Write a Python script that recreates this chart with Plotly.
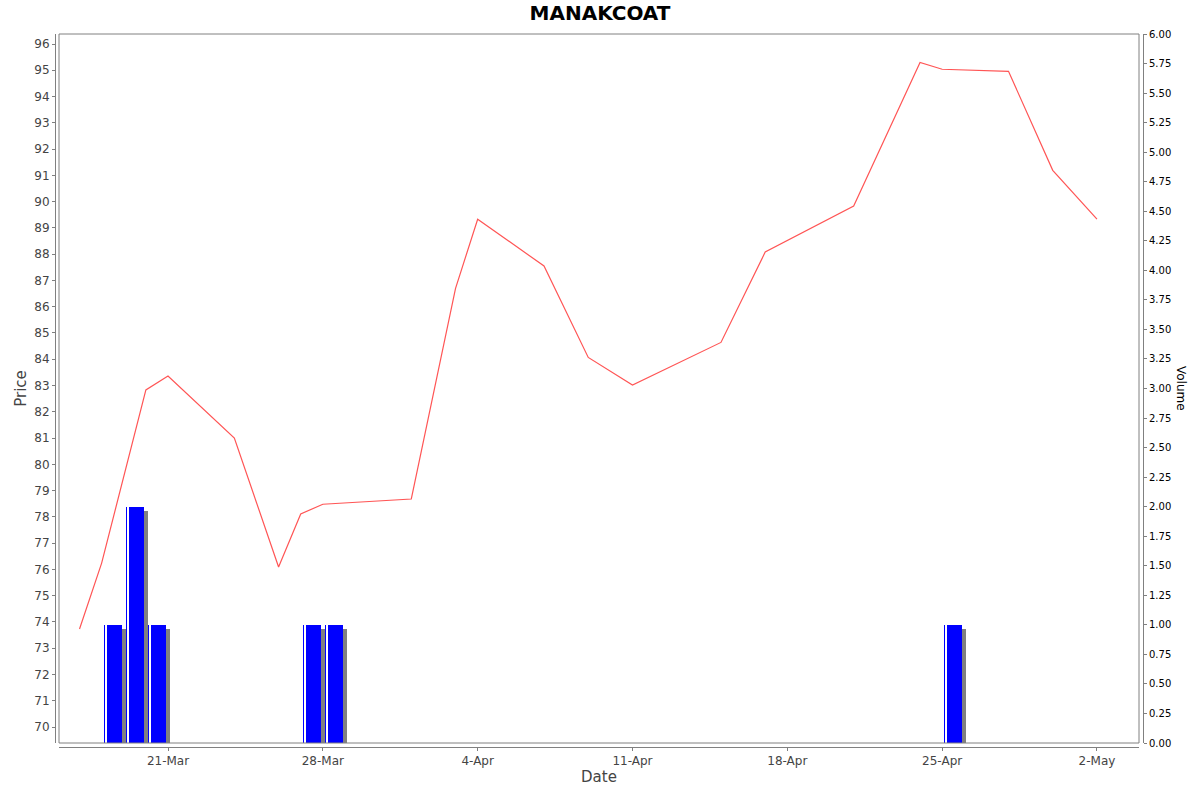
import pandas as pd
import plotly.graph_objects as go

# closing price (only the days drawn as vertices on the chart)
price_dates = ["2025-03-17", "2025-03-18", "2025-03-20", "2025-03-21", "2025-03-24",
               "2025-03-26", "2025-03-27", "2025-03-28", "2025-04-01", "2025-04-03",
               "2025-04-04", "2025-04-07", "2025-04-09", "2025-04-11", "2025-04-15",
               "2025-04-17", "2025-04-21", "2025-04-24", "2025-04-25", "2025-04-28",
               "2025-04-30", "2025-05-02"]
price = [73.73, 76.24, 82.83, 83.36, 81.00,
         76.09, 78.11, 78.48, 78.68, 86.70,
         89.33, 87.55, 84.07, 83.02, 84.64,
         88.08, 89.83, 95.30, 95.04, 94.96,
         91.19, 89.33]

# volume bars
vol_dates = ["2025-03-18", "2025-03-19", "2025-03-20", "2025-03-27", "2025-03-28", "2025-04-25"]
volume = [1, 2, 1, 1, 1, 1]

DAY = 86400000  # ms
PX_PER_DAY = 22.12
PX_PER_VOL = 709 / 6.0
shadow_dx = 4 / PX_PER_DAY * DAY
shadow_dy = 4 / PX_PER_VOL

vd = pd.to_datetime(vol_dates)
pdts = pd.to_datetime(price_dates)

fig = go.Figure()

# bar shadows (gray, shifted right/down like the java renderer)
fig.add_trace(go.Bar(x=vd, y=[v - shadow_dy for v in volume], yaxis="y2",
                     offset=0.1 * DAY + shadow_dx, width=0.8 * DAY,
                     marker=dict(color="rgb(128,128,128)", line=dict(width=0)),
                     showlegend=False, hoverinfo="skip"))
# blue bars
fig.add_trace(go.Bar(x=vd, y=volume, yaxis="y2",
                     offset=0.1 * DAY, width=0.8 * DAY,
                     marker=dict(color="rgb(0,0,255)", line=dict(width=0)),
                     showlegend=False, name="Volume"))
# thin white highlight stripe near left edge
fig.add_trace(go.Bar(x=vd, y=volume, yaxis="y2",
                     offset=0.1 * DAY + 1.2 / PX_PER_DAY * DAY, width=1.3 / PX_PER_DAY * DAY,
                     marker=dict(color="white", line=dict(width=0)),
                     showlegend=False, hoverinfo="skip"))

# price line
fig.add_trace(go.Scatter(x=pdts, y=price, mode="lines", yaxis="y",
                         line=dict(color="rgb(255,85,85)", width=1.2),
                         showlegend=False, name="Price"))

# paper area: 55..1143 x 34..747 ; inner plot box 59..1139 x 34..743
pw = 1143 - 55
ph = 747 - 34
xdom = [(59 - 55) / pw, (1139 - 55) / pw]
ydom = [(747 - 743) / ph, 1]

tickfont_gray = dict(family="DejaVu Sans", size=12, color="#444444")
tickfont_blk = dict(family="DejaVu Sans", size=10, color="#000000")

fig.update_layout(
    width=1200, height=792,
    margin=dict(l=55, r=1200 - 1143, t=34, b=792 - 747, autoexpand=False),
    paper_bgcolor="white", plot_bgcolor="white",
    barmode="overlay",
    bargap=0,
    title=dict(text="<b>MANAKCOAT</b>", x=0.5, xanchor="center", y=1 - 13 / 792,
               yanchor="middle", font=dict(family="DejaVu Sans", size=20, color="black")),
    xaxis=dict(domain=xdom, anchor="free", position=0, automargin=False,
               type="date",
               range=["2025-03-16 01:44", "2025-05-03 21:36"],
               tick0="2025-03-21", dtick=7 * DAY, tickformat="%-d-%b",
               showgrid=False, zeroline=False,
               showline=True, linecolor="#808080", linewidth=1,
               ticks="outside", ticklen=3, tickcolor="#808080",
               tickfont=tickfont_gray,
               title=dict(text="Date", font=dict(family="DejaVu Sans", size=15, color="#444444"),
                          standoff=4)),
    yaxis=dict(domain=ydom, anchor="free", position=0, automargin=False,
               range=[69.391, 96.381], dtick=1, tick0=70,
               showgrid=False, zeroline=False,
               showline=True, linecolor="#808080", linewidth=1,
               ticks="outside", ticklen=3, tickcolor="#808080",
               tickfont=tickfont_gray,
               title=dict(text="Price", font=dict(family="DejaVu Sans", size=15, color="#444444"),
                          standoff=3)),
    yaxis2=dict(domain=ydom, anchor="free", position=1, overlaying="y", side="right",
                automargin=False,
                range=[0, 6], dtick=0.25, tick0=0, tickformat=".2f",
                showgrid=False, zeroline=False,
                showline=True, linecolor="#808080", linewidth=1,
                ticks="outside", ticklen=3, tickcolor="#808080",
                tickfont=tickfont_blk),
    shapes=[dict(type="rect", xref="x domain", yref="y domain", x0=0, x1=1, y0=0, y1=1,
                 line=dict(color="#808080", width=1), layer="above")],
    annotations=[dict(text="Volume", textangle=90, xref="paper", yref="paper",
                      x=(1181 - 55) / pw, y=(747 - 388) / ph, xanchor="center", yanchor="middle",
                      showarrow=False, font=dict(family="DejaVu Sans", size=12, color="black"))],
)

# page body has a default 8px margin; remove it so the figure sits at the top-left corner
fig.write_html("out.html", config={"displayModeBar": False},
               post_script="document.body.style.margin='0';")
